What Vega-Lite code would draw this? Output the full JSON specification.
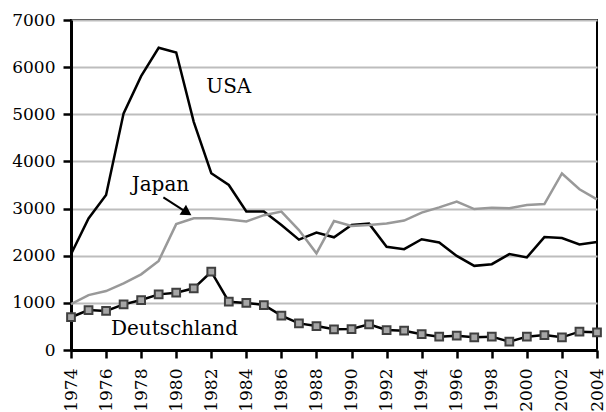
{
  "$schema": "https://vega.github.io/schema/vega-lite/v6.json",
  "autosize": "none",
  "padding": {"left": 71, "top": 20, "right": 9, "bottom": 62},
  "width": 526,
  "height": 330,
  "background": "white",
  "config": {
    "view": {"stroke": "black", "strokeWidth": 2},
    "font": "DejaVu Serif",
    "axis": {
      "labelFont": "DejaVu Serif",
      "labelFontSize": 17,
      "labelColor": "black",
      "domainColor": "black",
      "domainWidth": 3,
      "tickColor": "black",
      "tickWidth": 2.5,
      "tickSize": 8,
      "gridColor": "#bdbdbd",
      "gridWidth": 2,
      "title": null
    }
  },
  "datasets": {
    "series": [
      {"year": 1974, "country": "USA", "value": 2030},
      {"year": 1975, "country": "USA", "value": 2790},
      {"year": 1976, "country": "USA", "value": 3290},
      {"year": 1977, "country": "USA", "value": 5020},
      {"year": 1978, "country": "USA", "value": 5810},
      {"year": 1979, "country": "USA", "value": 6410},
      {"year": 1980, "country": "USA", "value": 6310},
      {"year": 1981, "country": "USA", "value": 4840},
      {"year": 1982, "country": "USA", "value": 3750},
      {"year": 1983, "country": "USA", "value": 3500},
      {"year": 1984, "country": "USA", "value": 2940},
      {"year": 1985, "country": "USA", "value": 2940},
      {"year": 1986, "country": "USA", "value": 2650},
      {"year": 1987, "country": "USA", "value": 2340},
      {"year": 1988, "country": "USA", "value": 2490},
      {"year": 1989, "country": "USA", "value": 2390},
      {"year": 1990, "country": "USA", "value": 2650},
      {"year": 1991, "country": "USA", "value": 2680},
      {"year": 1992, "country": "USA", "value": 2190},
      {"year": 1993, "country": "USA", "value": 2140},
      {"year": 1994, "country": "USA", "value": 2350},
      {"year": 1995, "country": "USA", "value": 2280},
      {"year": 1996, "country": "USA", "value": 1995},
      {"year": 1997, "country": "USA", "value": 1785},
      {"year": 1998, "country": "USA", "value": 1820},
      {"year": 1999, "country": "USA", "value": 2035},
      {"year": 2000, "country": "USA", "value": 1965},
      {"year": 2001, "country": "USA", "value": 2395},
      {"year": 2002, "country": "USA", "value": 2375},
      {"year": 2003, "country": "USA", "value": 2240},
      {"year": 2004, "country": "USA", "value": 2290},
      {"year": 1974, "country": "Japan", "value": 975},
      {"year": 1975, "country": "Japan", "value": 1165},
      {"year": 1976, "country": "Japan", "value": 1250},
      {"year": 1977, "country": "Japan", "value": 1415},
      {"year": 1978, "country": "Japan", "value": 1605},
      {"year": 1979, "country": "Japan", "value": 1890},
      {"year": 1980, "country": "Japan", "value": 2670},
      {"year": 1981, "country": "Japan", "value": 2795},
      {"year": 1982, "country": "Japan", "value": 2795},
      {"year": 1983, "country": "Japan", "value": 2770},
      {"year": 1984, "country": "Japan", "value": 2725},
      {"year": 1985, "country": "Japan", "value": 2860},
      {"year": 1986, "country": "Japan", "value": 2935},
      {"year": 1987, "country": "Japan", "value": 2545},
      {"year": 1988, "country": "Japan", "value": 2050},
      {"year": 1989, "country": "Japan", "value": 2735},
      {"year": 1990, "country": "Japan", "value": 2630},
      {"year": 1991, "country": "Japan", "value": 2650},
      {"year": 1992, "country": "Japan", "value": 2685},
      {"year": 1993, "country": "Japan", "value": 2745},
      {"year": 1994, "country": "Japan", "value": 2915},
      {"year": 1995, "country": "Japan", "value": 3025},
      {"year": 1996, "country": "Japan", "value": 3150},
      {"year": 1997, "country": "Japan", "value": 2990},
      {"year": 1998, "country": "Japan", "value": 3020},
      {"year": 1999, "country": "Japan", "value": 3005},
      {"year": 2000, "country": "Japan", "value": 3075},
      {"year": 2001, "country": "Japan", "value": 3095},
      {"year": 2002, "country": "Japan", "value": 3745},
      {"year": 2003, "country": "Japan", "value": 3410},
      {"year": 2004, "country": "Japan", "value": 3195},
      {"year": 1974, "country": "Deutschland", "value": 695},
      {"year": 1975, "country": "Deutschland", "value": 848},
      {"year": 1976, "country": "Deutschland", "value": 828},
      {"year": 1977, "country": "Deutschland", "value": 968},
      {"year": 1978, "country": "Deutschland", "value": 1060},
      {"year": 1979, "country": "Deutschland", "value": 1180},
      {"year": 1980, "country": "Deutschland", "value": 1215},
      {"year": 1981, "country": "Deutschland", "value": 1308},
      {"year": 1982, "country": "Deutschland", "value": 1660},
      {"year": 1983, "country": "Deutschland", "value": 1025},
      {"year": 1984, "country": "Deutschland", "value": 998},
      {"year": 1985, "country": "Deutschland", "value": 954},
      {"year": 1986, "country": "Deutschland", "value": 728},
      {"year": 1987, "country": "Deutschland", "value": 565},
      {"year": 1988, "country": "Deutschland", "value": 509},
      {"year": 1989, "country": "Deutschland", "value": 438},
      {"year": 1990, "country": "Deutschland", "value": 445},
      {"year": 1991, "country": "Deutschland", "value": 544},
      {"year": 1992, "country": "Deutschland", "value": 424},
      {"year": 1993, "country": "Deutschland", "value": 410},
      {"year": 1994, "country": "Deutschland", "value": 336},
      {"year": 1995, "country": "Deutschland", "value": 283},
      {"year": 1996, "country": "Deutschland", "value": 304},
      {"year": 1997, "country": "Deutschland", "value": 269},
      {"year": 1998, "country": "Deutschland", "value": 283},
      {"year": 1999, "country": "Deutschland", "value": 177},
      {"year": 2000, "country": "Deutschland", "value": 283},
      {"year": 2001, "country": "Deutschland", "value": 318},
      {"year": 2002, "country": "Deutschland", "value": 269},
      {"year": 2003, "country": "Deutschland", "value": 389},
      {"year": 2004, "country": "Deutschland", "value": 375}
    ],
    "labels": [
      {"year": 1983.0, "value": 5580, "text": "USA"},
      {"year": 1979.1, "value": 3500, "text": "Japan"},
      {"year": 1979.9, "value": 445, "text": "Deutschland"}
    ],
    "arrow": [
      {"x1": 1979.27, "y1": 3239, "x2": 1980.62, "y2": 2915}
    ]
  },
  "encoding": {
    "x": {
      "field": "year",
      "type": "quantitative",
      "scale": {"domain": [1974, 2004], "nice": false, "zero": false},
      "axis": {
        "values": [1974, 1976, 1978, 1980, 1982, 1984, 1986, 1988, 1990, 1992, 1994, 1996, 1998, 2000, 2002, 2004],
        "format": "d",
        "labelAngle": 270,
        "labelAlign": "right",
        "labelBaseline": "middle",
        "labelPadding": 10,
        "grid": false,
        "labelFlush": false,
        "labelOverlap": false
      }
    },
    "y": {
      "field": "value",
      "type": "quantitative",
      "scale": {"domain": [0, 7000], "nice": false},
      "axis": {
        "values": [0, 1000, 2000, 3000, 4000, 5000, 6000, 7000],
        "format": "d",
        "labelPadding": 8,
        "grid": true,
        "labelFlush": false
      }
    }
  },
  "layer": [
    {
      "data": {"name": "series"},
      "transform": [{"filter": "datum.country !== 'Deutschland'"}],
      "mark": {"type": "line", "strokeWidth": 2.5, "strokeJoin": "miter"},
      "encoding": {
        "color": {
          "field": "country",
          "type": "nominal",
          "scale": {"domain": ["USA", "Japan"], "range": ["#000000", "#999999"]},
          "legend": null
        },
        "order": {"field": "year"}
      }
    },
    {
      "data": {"name": "series"},
      "transform": [{"filter": "datum.country === 'Deutschland'"}],
      "mark": {"type": "line", "color": "black", "strokeWidth": 2.5},
      "encoding": {}
    },
    {
      "data": {"name": "series"},
      "transform": [{"filter": "datum.country === 'Deutschland'"}],
      "mark": {"type": "point", "shape": "square", "filled": true, "fill": "#a6a6a6", "stroke": "#404040", "strokeWidth": 2, "size": 60, "opacity": 1},
      "encoding": {}
    },
    {
      "data": {"name": "labels"},
      "mark": {"type": "text", "font": "DejaVu Serif", "fontSize": 20, "color": "black", "align": "center", "baseline": "middle"},
      "encoding": {"text": {"field": "text"}}
    },
    {
      "data": {"name": "arrow"},
      "mark": {"type": "rule", "color": "black", "strokeWidth": 2},
      "encoding": {
        "x": {"field": "x1", "type": "quantitative"},
        "y": {"field": "y1", "type": "quantitative"},
        "x2": {"field": "x2"},
        "y2": {"field": "y2"}
      }
    },
    {
      "data": {"name": "arrow"},
      "mark": {"type": "point", "shape": "triangle-right", "filled": true, "color": "black", "size": 140, "angle": 33, "opacity": 1},
      "encoding": {
        "x": {"field": "x2", "type": "quantitative"},
        "y": {"field": "y2", "type": "quantitative"}
      }
    }
  ]
}
